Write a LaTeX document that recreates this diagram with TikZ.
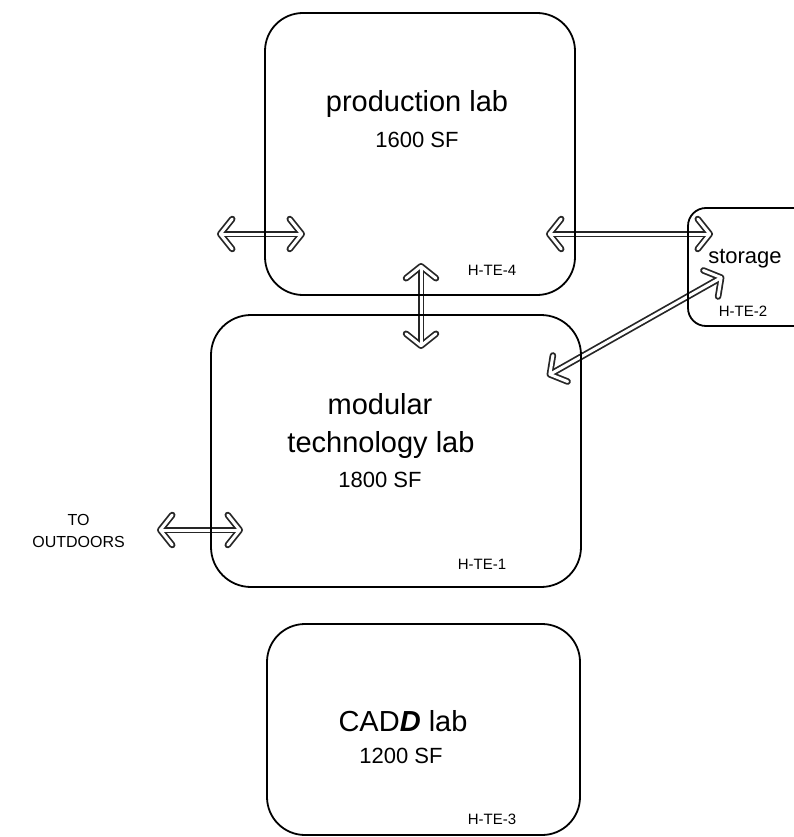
\documentclass[tikz,border=0pt]{standalone}
\usepackage{fontspec}
\setmainfont{Liberation Sans}
\usetikzlibrary{arrows.meta}
\tikzset{
  room/.style={draw=black, line width=1.8pt, inner sep=0pt},
  tipshape/.style={{Straight Barb[round,length=12pt,width=30pt]}-{Straight Barb[round,length=12pt,width=30pt]}},
  arrout/.style={draw=black!85, line width=6.5pt, tipshape},
  arrin/.style={draw=white, line width=3pt, shorten <=1.75pt, shorten >=1.75pt, tipshape},
  labtext/.style={anchor=base, inner sep=0pt, font=\fontsize{29}{34}\selectfont},
  areatext/.style={anchor=base, inner sep=0pt, font=\fontsize{22}{26}\selectfont},
  tagtext/.style={anchor=base, inner sep=0pt, font=\fontsize{15}{18}\selectfont},
  outtext/.style={inner sep=0pt, font=\fontsize{16}{19}\selectfont},
}
\newcommand\hollowarrow[2]{\draw[arrout] (#1) -- (#2); \draw[arrin] (#1) -- (#2);}
\begin{document}
\begin{tikzpicture}[x=1pt, y=-1pt]
\useasboundingbox (0,0) rectangle (794,837);
\clip (0,0) rectangle (794,837);
% arrow end points
\coordinate (a1s) at (217,234); \coordinate (a1e) at (305,234);
\coordinate (a2s) at (546,234); \coordinate (a2e) at (713,234);
\coordinate (a3s) at (421,263); \coordinate (a3e) at (421,349);
\coordinate (a4s) at (547,376); \coordinate (a4e) at (724,276);
\coordinate (a5s) at (157,530); \coordinate (a5e) at (243,530);
% arrows
\hollowarrow{a1s}{a1e}
\hollowarrow{a2s}{a2e}
\hollowarrow{a3s}{a3e}
\hollowarrow{a4s}{a4e}
\hollowarrow{a5s}{a5e}
% rooms
\node[room, rounded corners=38pt, minimum width=310pt, minimum height=282pt] (prod) at (420,154) {};
\node[room, rounded corners=40pt, minimum width=370pt, minimum height=272pt] (mod) at (396,451) {};
\node[room, rounded corners=38pt, minimum width=313pt, minimum height=211pt] (cadd) at (423.5,729.5) {};
\node[room, rounded corners=18pt, minimum width=142pt, minimum height=118pt] (stor) at (759,267) {};
% texts
\node[labtext] (prodname) at (417,112) {production lab};
\node[areatext] (prodarea) at (417,148) {1600 SF};
\node[tagtext] (prodtag) at (492,275) {H-TE-4};
\node[areatext] (storname) at (745,263) {storage};
\node[tagtext] (stortag) at (743,316) {H-TE-2};
\node[labtext] (modname1) at (380,414) {modular};
\node[labtext] (modname2) at (381,452) {technology lab};
\node[areatext] (modarea) at (380,487) {1800 SF};
\node[tagtext] (modtag) at (482,569) {H-TE-1};
\node[outtext, anchor=base east] (out2) at (125,547) {OUTDOORS};
\node[outtext, anchor=base] (out1) at ([yshift=22pt]out2.base) {TO};
\node[labtext] (caddname) at (403,731) {CAD\textbf{\textit{D}} lab};
\node[areatext] (caddarea) at (401,763) {1200 SF};
\node[tagtext] (caddtag) at (492,824) {H-TE-3};
\end{tikzpicture}
\end{document}
